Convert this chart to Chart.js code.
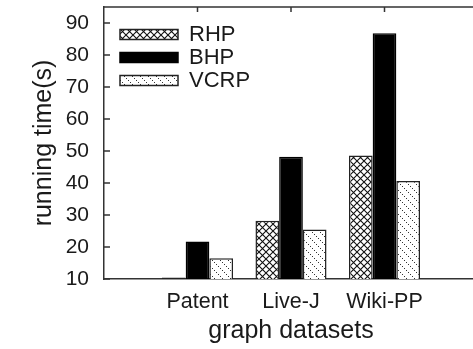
<!DOCTYPE html>
<html>
<head>
<meta charset="utf-8">
<script src="https://cdn.jsdelivr.net/npm/chart.js@4.4.0/dist/chart.umd.min.js"></script>
<style>
  html, body { margin: 0; padding: 0; background: #fff; overflow: hidden; }
  #wrap { width: 473px; height: 349px; overflow: hidden; }
</style>
</head>
<body>
<div id="wrap"><canvas id="chart" width="478" height="349"></canvas></div>
<script>
// ===== Data =====
const categories = ['', 'Patent', 'Live-J', 'Wiki-PP', ''];
const rhp  = [null, 10.5, 28.2, 48.6, null];
const bhp  = [null, 21.7, 48.2, 86.8, null];
const vcrp = [null, 16.5, 25.5, 40.6, null];
const yTicks = [10, 20, 30, 40, 50, 60, 70, 80, 90];

// ===== Patterns =====
function crossHatch() {
  const c = document.createElement('canvas');
  c.width = c.height = 7;
  const g = c.getContext('2d');
  g.fillStyle = '#fff';
  g.fillRect(0, 0, 7, 7);
  g.strokeStyle = '#111';
  g.lineWidth = 1.1;
  g.beginPath();
  g.moveTo(-1, -1); g.lineTo(8, 8);
  g.moveTo(8, -1); g.lineTo(-1, 8);
  g.stroke();
  return g.createPattern(c, 'repeat');
}

function dotted() {
  const c = document.createElement('canvas');
  c.width = c.height = 8;
  const g = c.getContext('2d');
  g.fillStyle = '#fff';
  g.fillRect(0, 0, 8, 8);
  g.fillStyle = '#333';
  for (let i = 0; i < 8; i += 2) g.fillRect(i, i, 1, 1);
  return g.createPattern(c, 'repeat');
}

// ===== Plugins =====
// ticks point inward, plus the top frame line
const innerTicks = {
  id: 'innerTicks',
  beforeDatasetsDraw(chart) {
    const { ctx, chartArea: a, scales: { x, y } } = chart;
    ctx.save();
    ctx.strokeStyle = '#333';
    ctx.lineWidth = 1.5;
    ctx.beginPath();
    ctx.moveTo(a.left, a.top);
    ctx.lineTo(a.right, a.top);
    y.ticks.forEach((t) => {
      const py = y.getPixelForValue(t.value);
      ctx.moveTo(a.left, py);
      ctx.lineTo(a.left + 6, py);
    });
    categories.forEach((c, i) => {
      if (!c) return;
      const px = x.getPixelForValue(i);
      ctx.moveTo(px, a.top);
      ctx.lineTo(px, a.top + 5);
      ctx.moveTo(px, a.bottom);
      ctx.lineTo(px, a.bottom - 5);
    });
    ctx.stroke();
    ctx.restore();
  },
};

// legend sits inside the plot, a bit away from the corner
const legendNudge = {
  id: 'legendNudge',
  afterLayout(chart) {
    const l = chart.legend;
    l.left = chart.chartArea.left + 15;
    l.top = chart.chartArea.top + 15.5;
  },
};

Chart.defaults.font.family = "'Liberation Sans', Arial, sans-serif";
Chart.defaults.color = '#1a1a1a';

new Chart(document.getElementById('chart'), {
  type: 'bar',
  data: {
    labels: categories,
    datasets: [
      { label: 'RHP', data: rhp, backgroundColor: crossHatch(), borderColor: '#222', borderWidth: 1.5 },
      { label: 'BHP', data: bhp, backgroundColor: '#000', borderColor: '#000', borderWidth: 1.5 },
      { label: 'VCRP', data: vcrp, backgroundColor: dotted(), borderColor: '#222', borderWidth: 1.5 },
    ],
  },
  options: {
    responsive: false,
    animation: false,
    devicePixelRatio: 1,
    layout: { padding: { top: 7, right: 0, left: 0, bottom: 0 } },
    datasets: { bar: { categoryPercentage: 0.76, barPercentage: 1.0 } },
    scales: {
      x: {
        offset: false,
        grid: { display: false, drawTicks: false, offset: false },
        border: { display: true, color: '#333', width: 1.5 },
        ticks: { font: { size: 21.5 }, padding: 10, autoSkip: false, maxRotation: 0 },
        title: { display: true, text: 'graph datasets', font: { size: 25 }, padding: { top: 0, bottom: 3 } },
        afterFit: (s) => { s.height = 70; s.paddingLeft = 0; s.paddingRight = 0; },
      },
      y: {
        min: 10,
        max: 95,
        afterBuildTicks: (s) => { s.ticks = yTicks.map((v) => ({ value: v })); },
        grid: { display: false, drawTicks: false },
        border: { display: true, color: '#333', width: 1.5 },
        ticks: { font: { size: 21 }, padding: 15 },
        title: { display: true, text: 'running time(s)', font: { size: 25 }, padding: { top: 29, bottom: 0 } },
        afterFit: (s) => { s.width = 104; s.paddingTop = 0; s.paddingBottom = 0; },
      },
    },
    plugins: {
      legend: {
        position: 'chartArea',
        fullSize: false,
        align: 'start',
        labels: { boxWidth: 58, boxHeight: 10, padding: 1, font: { size: 22 } },
      },
      tooltip: { enabled: false },
    },
  },
  plugins: [innerTicks, legendNudge],
});
</script>
</body>
</html>
